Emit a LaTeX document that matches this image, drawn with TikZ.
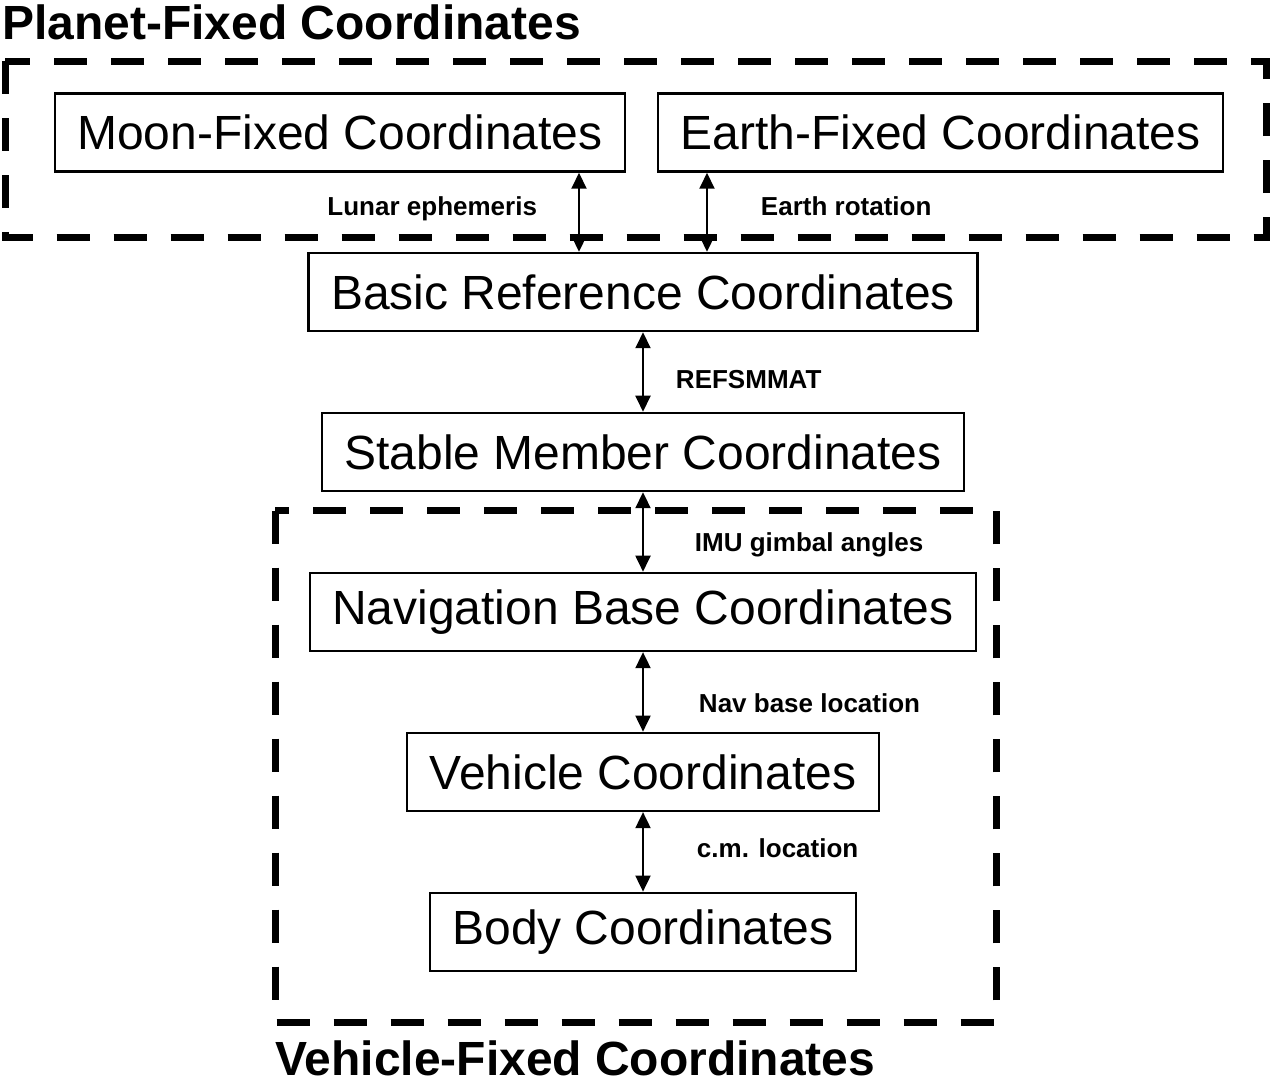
\documentclass[tikz,border=0pt]{standalone}
\usepackage{fontspec}
\setmainfont{Liberation Sans}
\usetikzlibrary{arrows.meta,positioning,calc}

\begin{document}
\begin{tikzpicture}[
    node distance=1.59cm,
    box/.style={rectangle, draw, line width=1.4pt, inner xsep=0.45cm, minimum height=1.56cm, font=\fontsize{27.3}{32}\selectfont},
    group/.style={draw, line width=0.14cm, dash pattern=on 0.66cm off 0.48cm},
    arrow/.style={{Triangle[length=0.32cm,width=0.3cm]}-{Triangle[length=0.32cm,width=0.3cm]}, line width=1.1pt},
    lbl/.style={inner sep=0pt, text height=0.72em, text depth=0pt, font=\fontsize{14.8}{17}\selectfont\bfseries},
    title/.style={inner sep=0pt, text height=19.6pt, text depth=0pt, font=\fontsize{27.3}{32}\selectfont\bfseries}
]
\useasboundingbox (0,0) rectangle (25.5,-21.7);

% Planet-fixed boxes
\node[box] (moon) at (6.8,-2.65) {Moon-Fixed Coordinates};
\node[box] (earth) at (18.81,-2.65) {Earth-Fixed Coordinates};

% Main chain
\node[box] (basic) at (12.86,-5.84) {Basic Reference Coordinates};
\node[box, below=of basic] (stable) {Stable Member Coordinates};
\node[box, below=of stable] (nav) {Navigation Base Coordinates};
\node[box, below=of nav] (vehicle) {Vehicle Coordinates};
\node[box, below=of vehicle] (body) {Body Coordinates};

% Dashed groups
\coordinate (pnw) at ($(moon.north)+(-6.7,0.62)$);
\coordinate (pse) at ($(earth.south)+(6.51,-1.3)$);
\draw[group] (pnw) rectangle (pse);
\coordinate (vnw) at ($(nav.north)+(-7.36,1.22)$);
\coordinate (vse) at ($(body.south)+(7.06,-1.0)$);
\coordinate (vsw) at (vnw |- vse);
\draw[group] (vnw) rectangle (vse);

% Titles
\node[title, above right=0.42cm and -0.06cm of pnw] (planettitle) {Planet-Fixed Coordinates};
\node[title, below right=0.38cm and 0cm of vsw] (vehicletitle) {Vehicle-Fixed Coordinates};

% Arrows
\draw[arrow] ([xshift=-1.28cm]basic.north) -- ([xshift=-1.28cm]basic.north |- moon.south)
    node[lbl, midway, left=0.82cm, yshift=0.06cm] {Lunar ephemeris};
\draw[arrow] ([xshift=1.28cm]basic.north) -- ([xshift=1.28cm]basic.north |- earth.south)
    node[lbl, midway, right=1.06cm, yshift=0.06cm] {Earth rotation};
\draw[arrow] (basic) -- (stable) node[lbl, midway, right=0.64cm, yshift=-0.2cm] {REFSMMAT};
\draw[arrow] (stable) -- (nav) node[lbl, midway, right=1.02cm, yshift=-0.26cm] {IMU gimbal angles};
\draw[arrow] (nav) -- (vehicle) node[lbl, midway, right=1.1cm, yshift=-0.28cm] {Nav base location};
\draw[arrow] (vehicle) -- (body) node[lbl, midway, right=1.06cm, yshift=0.02cm] {c.m. location};

\end{tikzpicture}
\end{document}
